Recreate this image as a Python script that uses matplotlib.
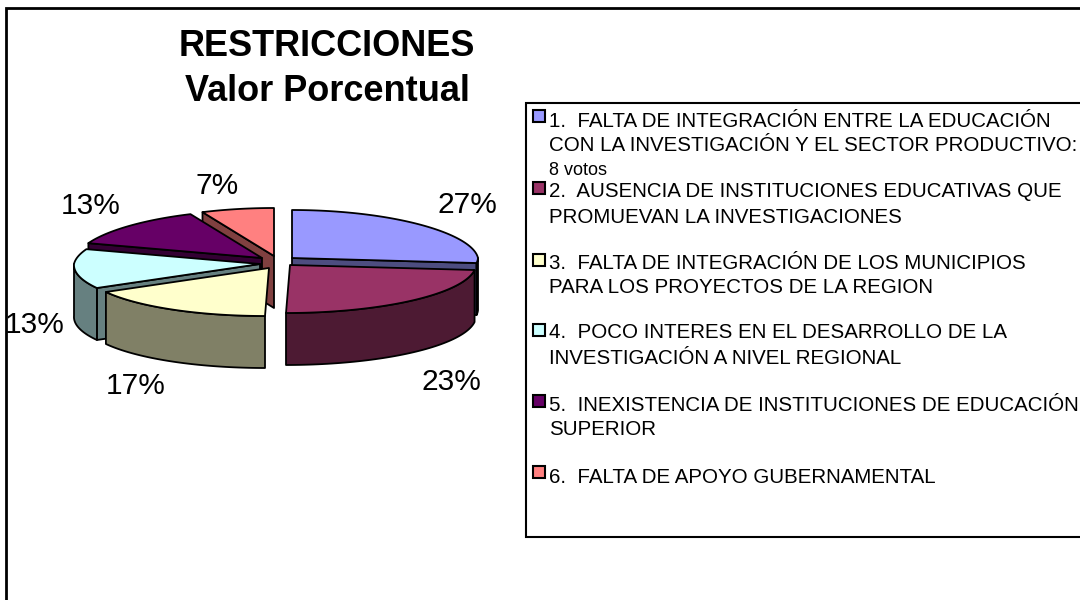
#!/usr/bin/env python3
# -*- coding: utf-8 -*-

import numpy as np
import matplotlib
matplotlib.use("Agg")
import matplotlib.pyplot as plt
from matplotlib.patches import Polygon, Rectangle

plt.rcParams["font.family"] = ["Liberation Sans", "DejaVu Sans"]

# datos
TITLE_LINES = ["RESTRICCIONES", "Valor Porcentual"]
VOTES = [8, 7, 5, 4, 4, 2]
TOP_COLORS = ["#9999FF", "#993366", "#FFFFCC", "#CCFFFF", "#660066", "#FF8080"]
SIDE_COLORS = ["#4D4D80", "#4D1A33", "#808066", "#668080", "#330033", "#804040"]
LEGEND_LINES = [
    ["1.  FALTA DE INTEGRACIÓN ENTRE LA EDUCACIÓN",
     "CON LA INVESTIGACIÓN Y EL SECTOR PRODUCTIVO:",
     "8 votos"],
    ["2.  AUSENCIA DE INSTITUCIONES EDUCATIVAS QUE",
     "PROMUEVAN LA INVESTIGACIONES"],
    ["3.  FALTA DE INTEGRACIÓN DE LOS MUNICIPIOS",
     "PARA LOS PROYECTOS DE LA REGION"],
    ["4.  POCO INTERES EN EL DESARROLLO DE LA",
     "INVESTIGACIÓN A NIVEL REGIONAL"],
    ["5.  INEXISTENCIA DE INSTITUCIONES DE EDUCACIÓN",
     "SUPERIOR"],
    ["6.  FALTA DE APOYO GUBERNAMENTAL"],
]

# geometria de la torta (pixeles)
CENTER = (276, 262)
EXPLODE = [(16, -4), (14, 3), (-7, 6), (-16, 2), (-14, -4), (-2, -6)]
RX, RY, DEPTH = 186, 48, 52
LABEL_POS = [(467, 205), (451, 382), (136, 386), (35, 325), (91, 206), (217, 186)]
LEGEND_BASE = [[127, 151, 175], [197, 223], [269, 293], [338, 364], [411, 435], [483]]
LEGEND_MARK = [110, 182, 254, 324, 395, 466]


def rim_point(cx, cy, deg):
    # angulo en sentido horario desde arriba; atras se achica un poco (perspectiva)
    t = np.radians(deg)
    s, c = np.sin(t), np.cos(t)
    x = cx + RX * (1 - 0.06 * np.maximum(c, 0)) * s + 4 * np.minimum(c, 0)
    y = cy - RY * c
    return np.column_stack([x, y])


def draw_slice(ax, start, end, offset, top, side):
    cx, cy = CENTER[0] + offset[0], CENTER[1] + offset[1]
    apex = np.array([[cx, cy]])
    down = np.array([0, DEPTH])
    edge = dict(edgecolor="black", linewidth=1.3, joinstyle="round")

    # caras de corte, solo las que miran al frente
    faces = []
    if 180 < start < 360:
        faces.append(start)
    if 0 < end < 180:
        faces.append(end)
    for deg in faces:
        p = rim_point(cx, cy, np.array([deg]))
        face = np.vstack([apex, p, p + down, apex + down])
        ax.add_patch(Polygon(face, closed=True, facecolor=side, **edge))

    # borde exterior, solo la parte del frente
    a0, a1 = max(start, 90), min(end, 270)
    if a1 > a0:
        p = rim_point(cx, cy, np.linspace(a0, a1, 60))
        band = np.vstack([p, (p + down)[::-1]])
        ax.add_patch(Polygon(band, closed=True, facecolor=side, **edge))

    # tapa
    p = rim_point(cx, cy, np.linspace(start, end, 80))
    ax.add_patch(Polygon(np.vstack([apex, p]), closed=True, facecolor=top, **edge))


def main():
    fig = plt.figure(figsize=(10.8, 6), dpi=100, facecolor="white")
    ax = fig.add_axes([0, 0, 1, 1])
    ax.set_xlim(0, 1080)
    ax.set_ylim(600, 0)
    ax.axis("off")

    # marco del grafico
    ax.add_patch(Rectangle((6, 8), 1100, 620, facecolor="white", edgecolor="black", linewidth=2))

    total = sum(VOTES)
    angles = np.cumsum([0] + VOTES) / total * 360

    # de atras hacia adelante
    for i in [5, 4, 0, 3, 2, 1]:
        draw_slice(ax, angles[i], angles[i + 1], EXPLODE[i], TOP_COLORS[i], SIDE_COLORS[i])

    for v, (x, y) in zip(VOTES, LABEL_POS):
        ax.text(x, y, f"{round(100 * v / total)}%", fontsize=21.5, ha="center", va="center")

    ax.text(326.5, 56, TITLE_LINES[0], fontsize=26, fontweight="bold", ha="center", va="baseline")
    ax.text(327, 101, TITLE_LINES[1], fontsize=26, fontweight="bold", ha="center", va="baseline")

    # leyenda
    ax.add_patch(Rectangle((526, 103), 600, 434, facecolor="white", edgecolor="black", linewidth=1.5))
    for lines, ys, y_mark, color in zip(LEGEND_LINES, LEGEND_BASE, LEGEND_MARK, TOP_COLORS):
        ax.add_patch(Rectangle((533, y_mark), 12, 12, facecolor=color, edgecolor="black", linewidth=1.5))
        for line, y in zip(lines, ys):
            size = 13 if line == "8 votos" else 14.8
            ax.text(549, y, line, fontsize=size, ha="left", va="baseline", clip_on=True)

    fig.savefig("out.png", dpi=100, facecolor="white")
    plt.close(fig)


if __name__ == "__main__":
    main()
